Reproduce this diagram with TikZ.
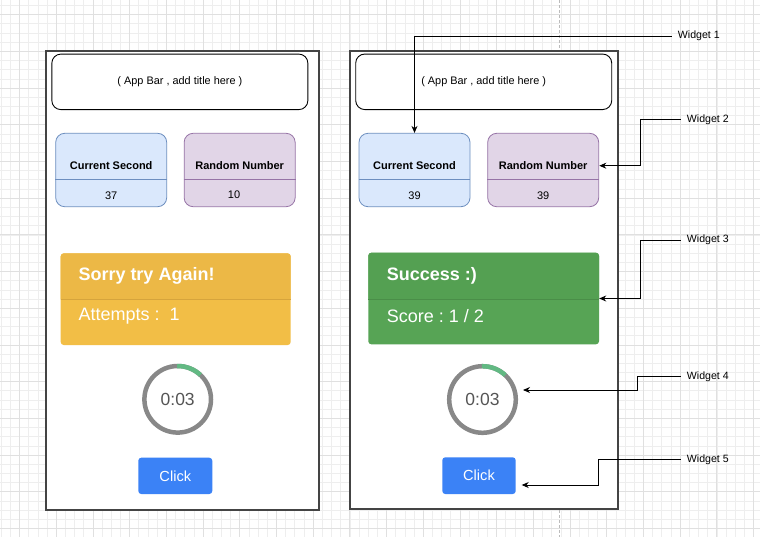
\documentclass[tikz,border=0pt]{standalone}
\usepackage{fontspec}
\setmainfont{Liberation Sans}
\usetikzlibrary{arrows.meta,calc}
\definecolor{gridminor}{HTML}{EEEEEE}
\definecolor{gridmajor}{HTML}{E0E0E0}
\definecolor{phoneline}{HTML}{444444}
\definecolor{csfill}{HTML}{DAE8FC}
\definecolor{csline}{HTML}{6C8EBF}
\definecolor{rnfill}{HTML}{E1D5E7}
\definecolor{rnline}{HTML}{9673A6}
\definecolor{yhead}{HTML}{ECB846}
\definecolor{ybody}{HTML}{F2BE46}
\definecolor{yline}{HTML}{D6A43C}
\definecolor{ghead}{HTML}{54A052}
\definecolor{gbody}{HTML}{57A455}
\definecolor{gline}{HTML}{4A8E48}
\definecolor{ringgray}{HTML}{888888}
\definecolor{ringgreen}{HTML}{62B983}
\definecolor{timertext}{HTML}{555555}
\definecolor{btnblue}{HTML}{3B82F6}
\definecolor{pageline}{HTML}{BBBBBB}
\frenchspacing
\begin{document}
\begin{tikzpicture}[x=1pt,y=-1pt,
  phone/.style={draw=phoneline, line width=1.3pt, fill=white, inner sep=0},
  appbar/.style={draw=black, line width=0.9pt, rounded corners=9pt, fill=white, inner sep=0, minimum width=256pt, minimum height=55.5pt, font=\fontsize{10.9}{13}\selectfont},
  csbox/.style={draw=csline, fill=csfill, rounded corners=9pt, line width=0.8pt, inner sep=0, minimum width=111pt, minimum height=73.4pt},
  rnbox/.style={draw=rnline, fill=rnfill, rounded corners=9pt, line width=0.8pt, inner sep=0, minimum width=111pt, minimum height=73.4pt},
  boxtitle/.style={font=\bfseries\fontsize{11}{13}\selectfont, inner sep=0},
  boxval/.style={font=\fontsize{11}{13}\selectfont, inner sep=0},
  cardhead/.style={font=\bfseries\fontsize{18}{21}\selectfont, text=white, anchor=west, inner sep=0},
  cardbody/.style={font=\fontsize{18}{21}\selectfont, text=white, anchor=west, inner sep=0},
  ring/.style={circle, draw=ringgray, line width=4.5pt, minimum size=66.6pt, inner sep=0, text=timertext, font=\fontsize{17.5}{20}\selectfont},
  btn/.style={fill=btnblue, rounded corners=3pt, text=white, font=\fontsize{14.6}{17}\selectfont, inner sep=0},
  wlabel/.style={anchor=west, inner xsep=6pt, inner ysep=0, font=\fontsize{10.6}{12}\selectfont},
  arr/.style={draw=black, line width=0.9pt, -{Stealth[length=7pt,width=6pt]}},
]
\useasboundingbox (0,0) rectangle (760,544);
% background grid
\foreach \i in {0,...,82} {\draw[gridminor, line width=0.6pt] ({1.15+\i*9.175},0) -- ({1.15+\i*9.175},537);}
\foreach \i in {0,...,57} {\draw[gridminor, line width=0.6pt] (0,{5.425+\i*9.175}) -- (760,{5.425+\i*9.175});}
\foreach \i in {0,...,20} {\draw[gridmajor, line width=0.7pt] ({19.5+\i*36.7},0) -- ({19.5+\i*36.7},537);}
\foreach \i in {0,...,14} {\draw[gridmajor, line width=0.7pt] (0,{14.6+\i*36.7}) -- (760,{14.6+\i*36.7});}
\draw[pageline, line width=0.8pt, dash pattern=on 3pt off 2pt] (559,0) -- (559,537);

% ---------- left phone ----------
\node[phone, minimum width=273pt, minimum height=459pt] (ph1) at (182.5,280.5) {};
\node[appbar] (ab1) at (179.85,81.85) {( App Bar , add title here )};
\node[csbox] (cs1) at (111.2,170) {};
\draw[csline, line width=0.8pt] (cs1.west |- 0,179.3) -- (cs1.east |- 0,179.3);
\node[boxtitle] (cs1t) at (111.2,165.7) {Current Second};
\node[boxval] (cs1v) at (111.2,196) {37};
\node[rnbox] (rn1) at (239.65,170) {};
\draw[rnline, line width=0.8pt] (rn1.west |- 0,179.3) -- (rn1.east |- 0,179.3);
\node[boxtitle] (rn1t) at (239.65,165.7) {Random Number};
\node[boxval] (rn1v) at (234,195) {10};
% yellow card
\node[fill=ybody, rounded corners=3pt, minimum width=230pt, minimum height=91.7pt, inner sep=0] (yc) at (175.7,299.15) {};
\fill[yhead] (60.7,299.3) [rounded corners=3pt] -- (60.7,253.45) -- (290.7,253.45) [sharp corners] -- (290.7,299.3) -- cycle;
\draw[yline, line width=0.8pt] (yc.west |- 0,299.3) -- (yc.east |- 0,299.3);
\node[cardhead] (ych) at (78.3,276) {Sorry try Again!};
\node[cardbody] (ycb) at (78.3,316.5) {Attempts :\ \ 1};
% timer
\node[ring] (tm1) at (177.7,399.3) {0:03};
\draw[ringgreen, line width=4.5pt] ([shift={(91:33.3pt)}]tm1.center) arc[start angle=91, end angle=47, radius=33.3pt];
% button
\node[btn, minimum width=74pt, minimum height=36.3pt] (bt1) at (175.3,475.85) {Click};

% ---------- right phone ----------
\node[phone, minimum width=268pt, minimum height=458pt] (ph2) at (484,280) {};
\node[appbar] (ab2) at (483.7,81.8) {( App Bar , add title here )};
\node[csbox] (cs2) at (414.5,170) {};
\draw[csline, line width=0.8pt] (cs2.west |- 0,179.3) -- (cs2.east |- 0,179.3);
\node[boxtitle] (cs2t) at (414.5,165.7) {Current Second};
\node[boxval] (cs2v) at (414.5,196) {39};
\node[rnbox] (rn2) at (543.2,170) {};
\draw[rnline, line width=0.8pt] (rn2.west |- 0,179.3) -- (rn2.east |- 0,179.3);
\node[boxtitle] (rn2t) at (543.2,165.7) {Random Number};
\node[boxval] (rn2v) at (543.2,196) {39};
% green card
\node[fill=gbody, rounded corners=3pt, minimum width=230.7pt, minimum height=91.6pt, inner sep=0] (gc) at (483.65,298.5) {};
\fill[ghead] (368.3,299) [rounded corners=3pt] -- (368.3,252.85) -- (599,252.85) [sharp corners] -- (599,299) -- cycle;
\draw[gline, line width=0.8pt] (gc.west |- 0,299) -- (gc.east |- 0,299);
\node[cardhead] (gch) at (386.7,276) {Success :)};
\node[cardbody] (gcb) at (386.7,316.5) {Score : 1 / 2};
% timer
\node[ring] (tm2) at (482.5,399.5) {0:03};
\draw[ringgreen, line width=4.5pt] ([shift={(91:33.3pt)}]tm2.center) arc[start angle=91, end angle=47, radius=33.3pt];
% button
\node[btn, minimum width=73.4pt, minimum height=36.7pt] (bt2) at (479,475.65) {Click};

% ---------- callouts ----------
\node[wlabel] (w1) at (671.7,36) {Widget 1};
\node[wlabel] (w2) at (680.7,119.3) {Widget 2};
\node[wlabel] (w3) at (680.7,240) {Widget 3};
\node[wlabel] (w4) at (680.7,376.7) {Widget 4};
\node[wlabel] (w5) at (680.7,459.3) {Widget 5};
\coordinate (b2) at (640,119.3);
\coordinate (t2) at (599.3,165.7);
\coordinate (b3) at (640,240);
\coordinate (b4) at (637.7,376.7);
\coordinate (t4) at (523,390);
\coordinate (b5) at (598.3,459.3);
\coordinate (t5) at (521.7,485);
\draw[arr] (w1.west) -| (cs2.north);
\draw[arr] (w2.west) -- (b2) |- (t2);
\draw[arr] (w3.west) -- (b3) |- (gc.east);
\draw[arr] (w4.west) -- (b4) |- (t4);
\draw[arr] (w5.west) -- (b5) |- (t5);
\end{tikzpicture}
\end{document}
